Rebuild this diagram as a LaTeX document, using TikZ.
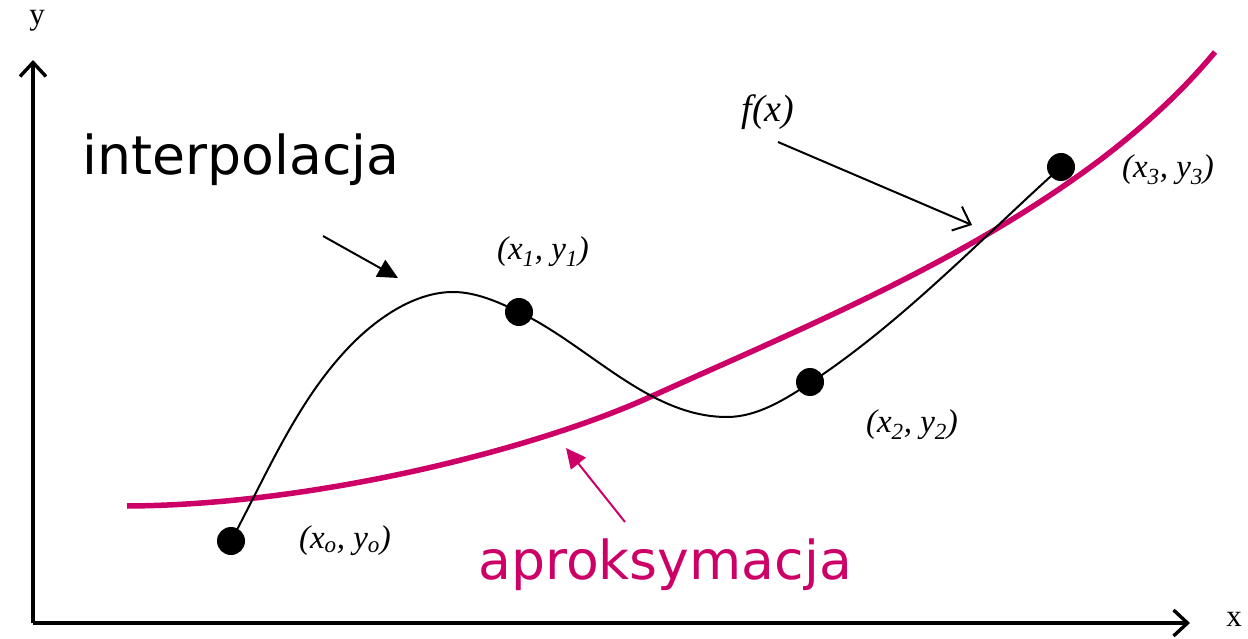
\documentclass[tikz,border=0pt]{standalone}
\usepackage{fontspec}
\setmainfont{Liberation Serif}
\newfontfamily\bigsans{DejaVu Sans}
\usetikzlibrary{arrows.meta}
\definecolor{approx}{RGB}{204,0,102}
\tikzset{pt/.style={circle, fill=black, inner sep=0pt, minimum size=28pt},
  lbl/.style={font=\fontsize{33}{34}\selectfont\itshape},
  axis/.style={line width=3.4pt, -{Straight Barb[length=14pt,width=26pt,line width=3.4pt]}}}

\begin{document}
\begin{tikzpicture}[x=1pt, y=-1pt]
    \useasboundingbox (0,0) rectangle (1248,639);
    % Axes
    \coordinate (origin) at (33,623);
    \coordinate (ytip) at (33,60);
    \coordinate (xtip) at (1190,623);
    \draw[axis] (origin) -- (ytip);
    \draw[axis] (origin) -- (xtip);
    \node[font=\fontsize{31}{31}\selectfont] (ylab) at (37,21) {y};
    \node[font=\fontsize{31}{31}\selectfont] (xlab) at (1234,619) {x};
    % Approximation curve
    \draw[approx, line width=5.5pt] (127,506) .. controls (320,505) and (540,447) .. (650,397)
        .. controls (805,327) and (964,262) .. (1100,160)
        .. controls (1142,128) and (1181,93) .. (1215,52);
    % Interpolating curve
    \draw[line width=2pt] (231,541) .. controls (267.5,473) and (298.6,397.4) .. (353,343)
        .. controls (379.4,316.6) and (416,292) .. (453,292)
        .. controls (476,292) and (498.3,302) .. (519,312)
        .. controls (589.4,345.8) and (649,417) .. (727,417)
        .. controls (757,417) and (785,399.5) .. (810,383)
        .. controls (901.9,322.4) and (979.3,240.6) .. (1061,167);
    % Data points
    \node[pt] (p0) at (231,541) {};
    \node[pt] (p1) at (519,312) {};
    \node[pt] (p2) at (810,382) {};
    \node[pt] (p3) at (1061,167) {};
    \node[lbl] (l0) at (345,541) {(x\textsubscript{o}, y\textsubscript{o})};
    \node[lbl] (l1) at (543,252) {(x\textsubscript{1}, y\textsubscript{1})};
    \node[lbl] (l2) at (912,425) {(x\textsubscript{2}, y\textsubscript{2})};
    \node[lbl] (l3) at (1168,170) {(x\textsubscript{3}, y\textsubscript{3})};
    % f(x)
    \node[lbl, font=\fontsize{38}{38}\selectfont\itshape] (fx) at (768,112) {f(x)};
    \coordinate (fxs) at (778,142);
    \coordinate (fxe) at (972,225);
    \draw[line width=2pt, -{Straight Barb[length=15pt,width=26pt,line width=2pt]}] (fxs) -- (fxe);
    % Labels
    \node[font=\bigsans\fontsize{53.6}{54}\selectfont] (interp) at (241,160) {interpolacja};
    \coordinate (is) at (323,236);
    \coordinate (ie) at (398,278);
    \draw[line width=2pt, -{Triangle[length=20pt,width=19pt]}] (is) -- (ie);
    \node[approx, font=\bigsans\fontsize{53.6}{54}\selectfont] (aprox) at (665,565) {aproksymacja};
    \coordinate (as) at (625,522);
    \coordinate (ae) at (566,448);
    \draw[approx, line width=2pt, -{Triangle[length=20pt,width=19pt]}] (as) -- (ae);
\end{tikzpicture}
\end{document}
